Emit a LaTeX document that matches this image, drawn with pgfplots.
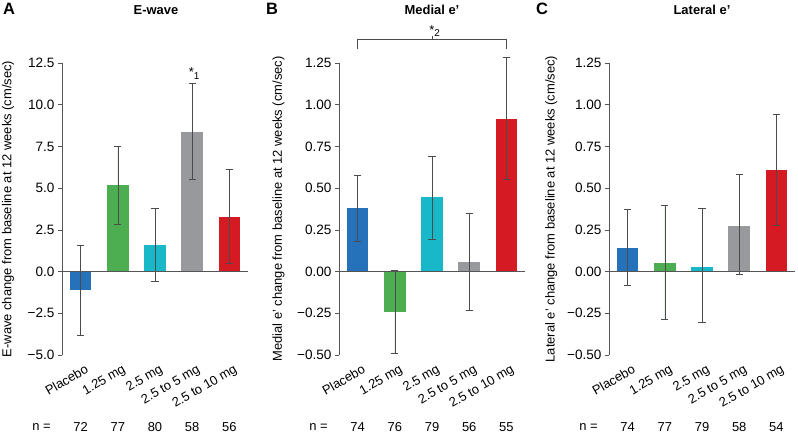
\documentclass[border=0pt]{standalone}
\usepackage{pgfplots}
\pgfplotsset{compat=1.18}
\usepackage{fontspec}
\setmainfont{Liberation Sans}
\definecolor{cblue}{RGB}{38,114,186}
\definecolor{cgreen}{RGB}{76,174,80}
\definecolor{ccyan}{RGB}{24,184,200}
\definecolor{cgray}{RGB}{152,153,156}
\definecolor{cred}{RGB}{214,26,36}
\definecolor{axgray}{RGB}{85,85,85}
\definecolor{errgray}{RGB}{75,75,75}
\newcommand{\lbl}{\fontsize{13}{15}\selectfont}
\newcommand{\tkl}{\fontsize{13.6}{16}\selectfont}
\begin{document}
\begin{tikzpicture}[x=1bp,y=1bp]
\useasboundingbox (0,0) rectangle (798,434);
\pgfplotsset{
 panel/.style 2 args={
  at={(#1,79bp)}, anchor=south west, scale only axis, width=186bp, height=292bp,
  xmin=-0.5, xmax=4.5,
  axis y line*=left, axis x line*=bottom, x axis line style={draw=none},
  xtick={0,1,2,3,4},
  xticklabels={Placebo,1.25 mg,2.5 mg,2.5 to 5 mg,2.5 to 10 mg},
  xtick style={draw=none},
  xticklabel style={rotate=30, anchor=north east, inner sep=1bp, xshift=2bp, yshift=-5bp, font=\lbl},
  tick align=outside, major tick length=4bp,
  ytick style={line width=0.6pt, color=axgray},
  y axis line style={line width=0.6pt, color=axgray},
  every tick label/.append style={text=black},
  yticklabel style={font=\tkl},
  ylabel style={at={(axis description cs:#2,0.5)}, anchor=center, font=\lbl},
  ybar, bar width=21.5bp, bar shift=0pt, clip=false,
  error bars/y dir=both, error bars/y explicit,
  error bars/error bar style={draw=errgray, line width=0.6pt},
  error bars/error mark options={rotate=90, mark size=3.6bp, line width=0.6pt, draw=errgray},
 }
}
% ---------------- Panel A ----------------
\begin{axis}[panel={62bp}{-0.29},
  ymin=-5, ymax=12.5,
  ytick={-5,-2.5,0,2.5,5,7.5,10,12.5},
  yticklabels={−5.0,−2.5,0.0,2.5,5.0,7.5,10.0,12.5},
  ylabel={E-wave change from baseline at 12 weeks (cm/sec)}]
\addplot[fill=cblue, draw=none] coordinates {(0,-1.1) += (0,2.65) -= (0,2.7)};
\addplot[fill=cgreen, draw=none] coordinates {(1,5.2) += (0,2.3) -= (0,2.35)};
\addplot[fill=ccyan, draw=none] coordinates {(2,1.6) += (0,2.2) -= (0,2.2)};
\addplot[fill=cgray, draw=none] coordinates {(3,8.35) += (0,2.95) -= (0,2.85)};
\addplot[fill=cred, draw=none] coordinates {(4,3.25) += (0,2.85) -= (0,2.75)};
\draw[axgray, line width=0.6pt] (axis cs:-0.5,0) -- (axis cs:4.5,0);
\node[font=\lbl, anchor=south, inner sep=1bp] at (axis cs:3.05,11.45) {*\raisebox{-2.5bp}{\fontsize{10}{10}\selectfont 1}};
\node[font=\lbl, yshift=-72bp] at (axis cs:-1.05,-5) {n =};
\node[font=\lbl, yshift=-72bp] at (axis cs:0,-5) {72};
\node[font=\lbl, yshift=-72bp] at (axis cs:1,-5) {77};
\node[font=\lbl, yshift=-72bp] at (axis cs:2,-5) {80};
\node[font=\lbl, yshift=-72bp] at (axis cs:3,-5) {58};
\node[font=\lbl, yshift=-72bp] at (axis cs:4,-5) {56};
\end{axis}
% ---------------- Panel B ----------------
\begin{axis}[panel={339bp}{-0.325},
  ymin=-0.5, ymax=1.25,
  ytick={-0.5,-0.25,0,0.25,0.5,0.75,1,1.25},
  yticklabels={−0.50,−0.25,0.00,0.25,0.50,0.75,1.00,1.25},
  ylabel={Medial e' change from baseline at 12 weeks (cm/sec)}]
\addplot[fill=cblue, draw=none] coordinates {(0,0.38) += (0,0.195) -= (0,0.2)};
\addplot[fill=cgreen, draw=none] coordinates {(1,-0.245) += (0,0.25) -= (0,0.245)};
\addplot[fill=ccyan, draw=none] coordinates {(2,0.445) += (0,0.245) -= (0,0.25)};
\addplot[fill=cgray, draw=none] coordinates {(3,0.055) += (0,0.295) -= (0,0.285)};
\addplot[fill=cred, draw=none] coordinates {(4,0.915) += (0,0.37) -= (0,0.365)};
\draw[axgray, line width=0.6pt] (axis cs:-0.5,0) -- (axis cs:4.5,0);
\draw[errgray, line width=0.7pt] (axis cs:0,1.336) -- (axis cs:0,1.39) -- (axis cs:4,1.39) -- (axis cs:4,1.336);
\draw[errgray, line width=0.7pt] (axis cs:2,1.39) -- (axis cs:2,1.414);
\node[font=\lbl, anchor=south, inner sep=1bp] at (axis cs:2.07,1.40) {*\raisebox{-2.5bp}{\fontsize{10}{10}\selectfont 2}};
\node[font=\lbl, yshift=-72bp] at (axis cs:-1.05,-0.5) {n =};
\node[font=\lbl, yshift=-72bp] at (axis cs:0,-0.5) {74};
\node[font=\lbl, yshift=-72bp] at (axis cs:1,-0.5) {76};
\node[font=\lbl, yshift=-72bp] at (axis cs:2,-0.5) {79};
\node[font=\lbl, yshift=-72bp] at (axis cs:3,-0.5) {56};
\node[font=\lbl, yshift=-72bp] at (axis cs:4,-0.5) {55};
\end{axis}
% ---------------- Panel C ----------------
\begin{axis}[panel={609bp}{-0.31},
  ymin=-0.5, ymax=1.25,
  ytick={-0.5,-0.25,0,0.25,0.5,0.75,1,1.25},
  yticklabels={−0.50,−0.25,0.00,0.25,0.50,0.75,1.00,1.25},
  ylabel={Lateral e' change from baseline at 12 weeks (cm/sec)}]
\addplot[fill=cblue, draw=none] coordinates {(0,0.14) += (0,0.235) -= (0,0.225)};
\addplot[fill=cgreen, draw=none] coordinates {(1,0.05) += (0,0.345) -= (0,0.335)};
\addplot[fill=ccyan, draw=none] coordinates {(2,0.03) += (0,0.35) -= (0,0.335)};
\addplot[fill=cgray, draw=none] coordinates {(3,0.275) += (0,0.305) -= (0,0.29)};
\addplot[fill=cred, draw=none] coordinates {(4,0.61) += (0,0.33) -= (0,0.335)};
\draw[axgray, line width=0.6pt] (axis cs:-0.5,0) -- (axis cs:4.5,0);
\node[font=\lbl, yshift=-72bp] at (axis cs:-1.05,-0.5) {n =};
\node[font=\lbl, yshift=-72bp] at (axis cs:0,-0.5) {74};
\node[font=\lbl, yshift=-72bp] at (axis cs:1,-0.5) {77};
\node[font=\lbl, yshift=-72bp] at (axis cs:2,-0.5) {79};
\node[font=\lbl, yshift=-72bp] at (axis cs:3,-0.5) {58};
\node[font=\lbl, yshift=-72bp] at (axis cs:4,-0.5) {54};
\end{axis}
% ---------------- Titles ----------------
\node[font=\fontsize{16.5}{18}\selectfont\bfseries] at (9,425) {A};
\node[font=\lbl\bfseries] at (156,424) {E-wave};
\node[font=\fontsize{16.5}{18}\selectfont\bfseries] at (272,425) {B};
\node[font=\lbl\bfseries] at (432,424) {Medial e'};
\node[font=\fontsize{16.5}{18}\selectfont\bfseries] at (542,425) {C};
\node[font=\lbl\bfseries] at (702,424) {Lateral e'};
\end{tikzpicture}
\end{document}
